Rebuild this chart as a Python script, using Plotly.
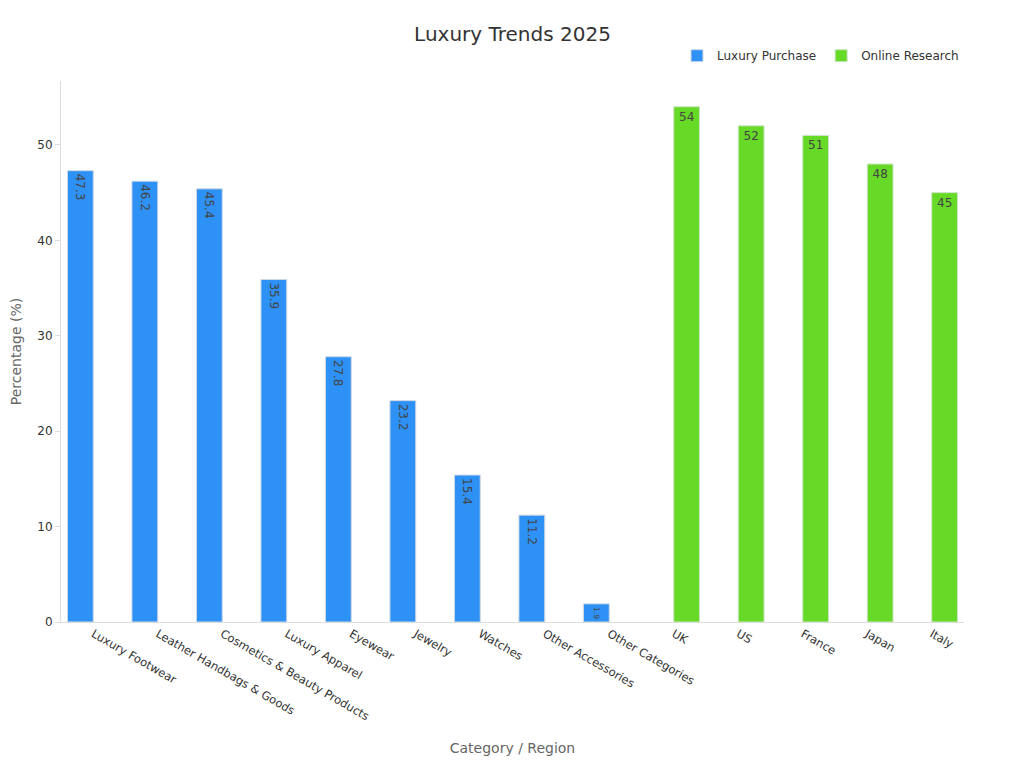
import plotly.graph_objects as go

categories = ["Luxury Footwear", "Leather Handbags & Goods", "Cosmetics & Beauty Products",
              "Luxury Apparel", "Eyewear", "Jewelry", "Watches", "Other Accessories",
              "Other Categories"]
purchase = [47.3, 46.2, 45.4, 35.9, 27.8, 23.2, 15.4, 11.2, 1.9]

regions = ["UK", "US", "France", "Japan", "Italy"]
research = [54, 52, 51, 48, 45]

fig = go.Figure()
fig.add_trace(go.Bar(
    x=categories, y=purchase, name="Luxury Purchase",
    width=0.4, offset=-0.4,
    text=purchase, textposition="inside", insidetextanchor="end", textangle=90,
    textfont=dict(color="#444", size=12),
    marker=dict(color="#2e91f5", line=dict(color="#cfd8e3", width=1)),
))
fig.add_trace(go.Bar(
    x=regions, y=research, name="Online Research",
    width=0.4, offset=0,
    text=research, textposition="inside", insidetextanchor="end", textangle=0,
    textfont=dict(color="#444", size=12),
    marker=dict(color="#66da26", line=dict(color="#cfe3c8", width=1)),
))

fig.update_layout(
    width=1024, height=768,
    title=dict(text="Luxury Trends 2025", x=0.5, xref="paper", xanchor="center",
               y=0.966, yanchor="middle", font=dict(size=20, color="#333")),
    font=dict(family="DejaVu Sans", color="#333"),
    plot_bgcolor="white", paper_bgcolor="white",
    margin=dict(l=53, r=68, t=73, b=154),
    legend=dict(orientation="h", x=1, xanchor="right", y=1.02, yanchor="bottom",
                font=dict(size=12)),
    xaxis=dict(title=dict(text="Category / Region", font=dict(size=14, color="#666"),
                          standoff=20),
               automargin=False,
               tickangle=30, tickfont=dict(size=11.5), showline=True, linecolor="#ddd",
               categoryorder="array", categoryarray=categories + regions),
    yaxis=dict(title=dict(text="Percentage (%)", font=dict(size=14, color="#666")),
               automargin=False,
               range=[0, 56.7], dtick=10, showgrid=False, showline=True, linecolor="#ddd",
               ticks="outside", ticklen=5, tickcolor="#ddd", tickfont=dict(size=12)),
)

fig.write_html("out.html")
